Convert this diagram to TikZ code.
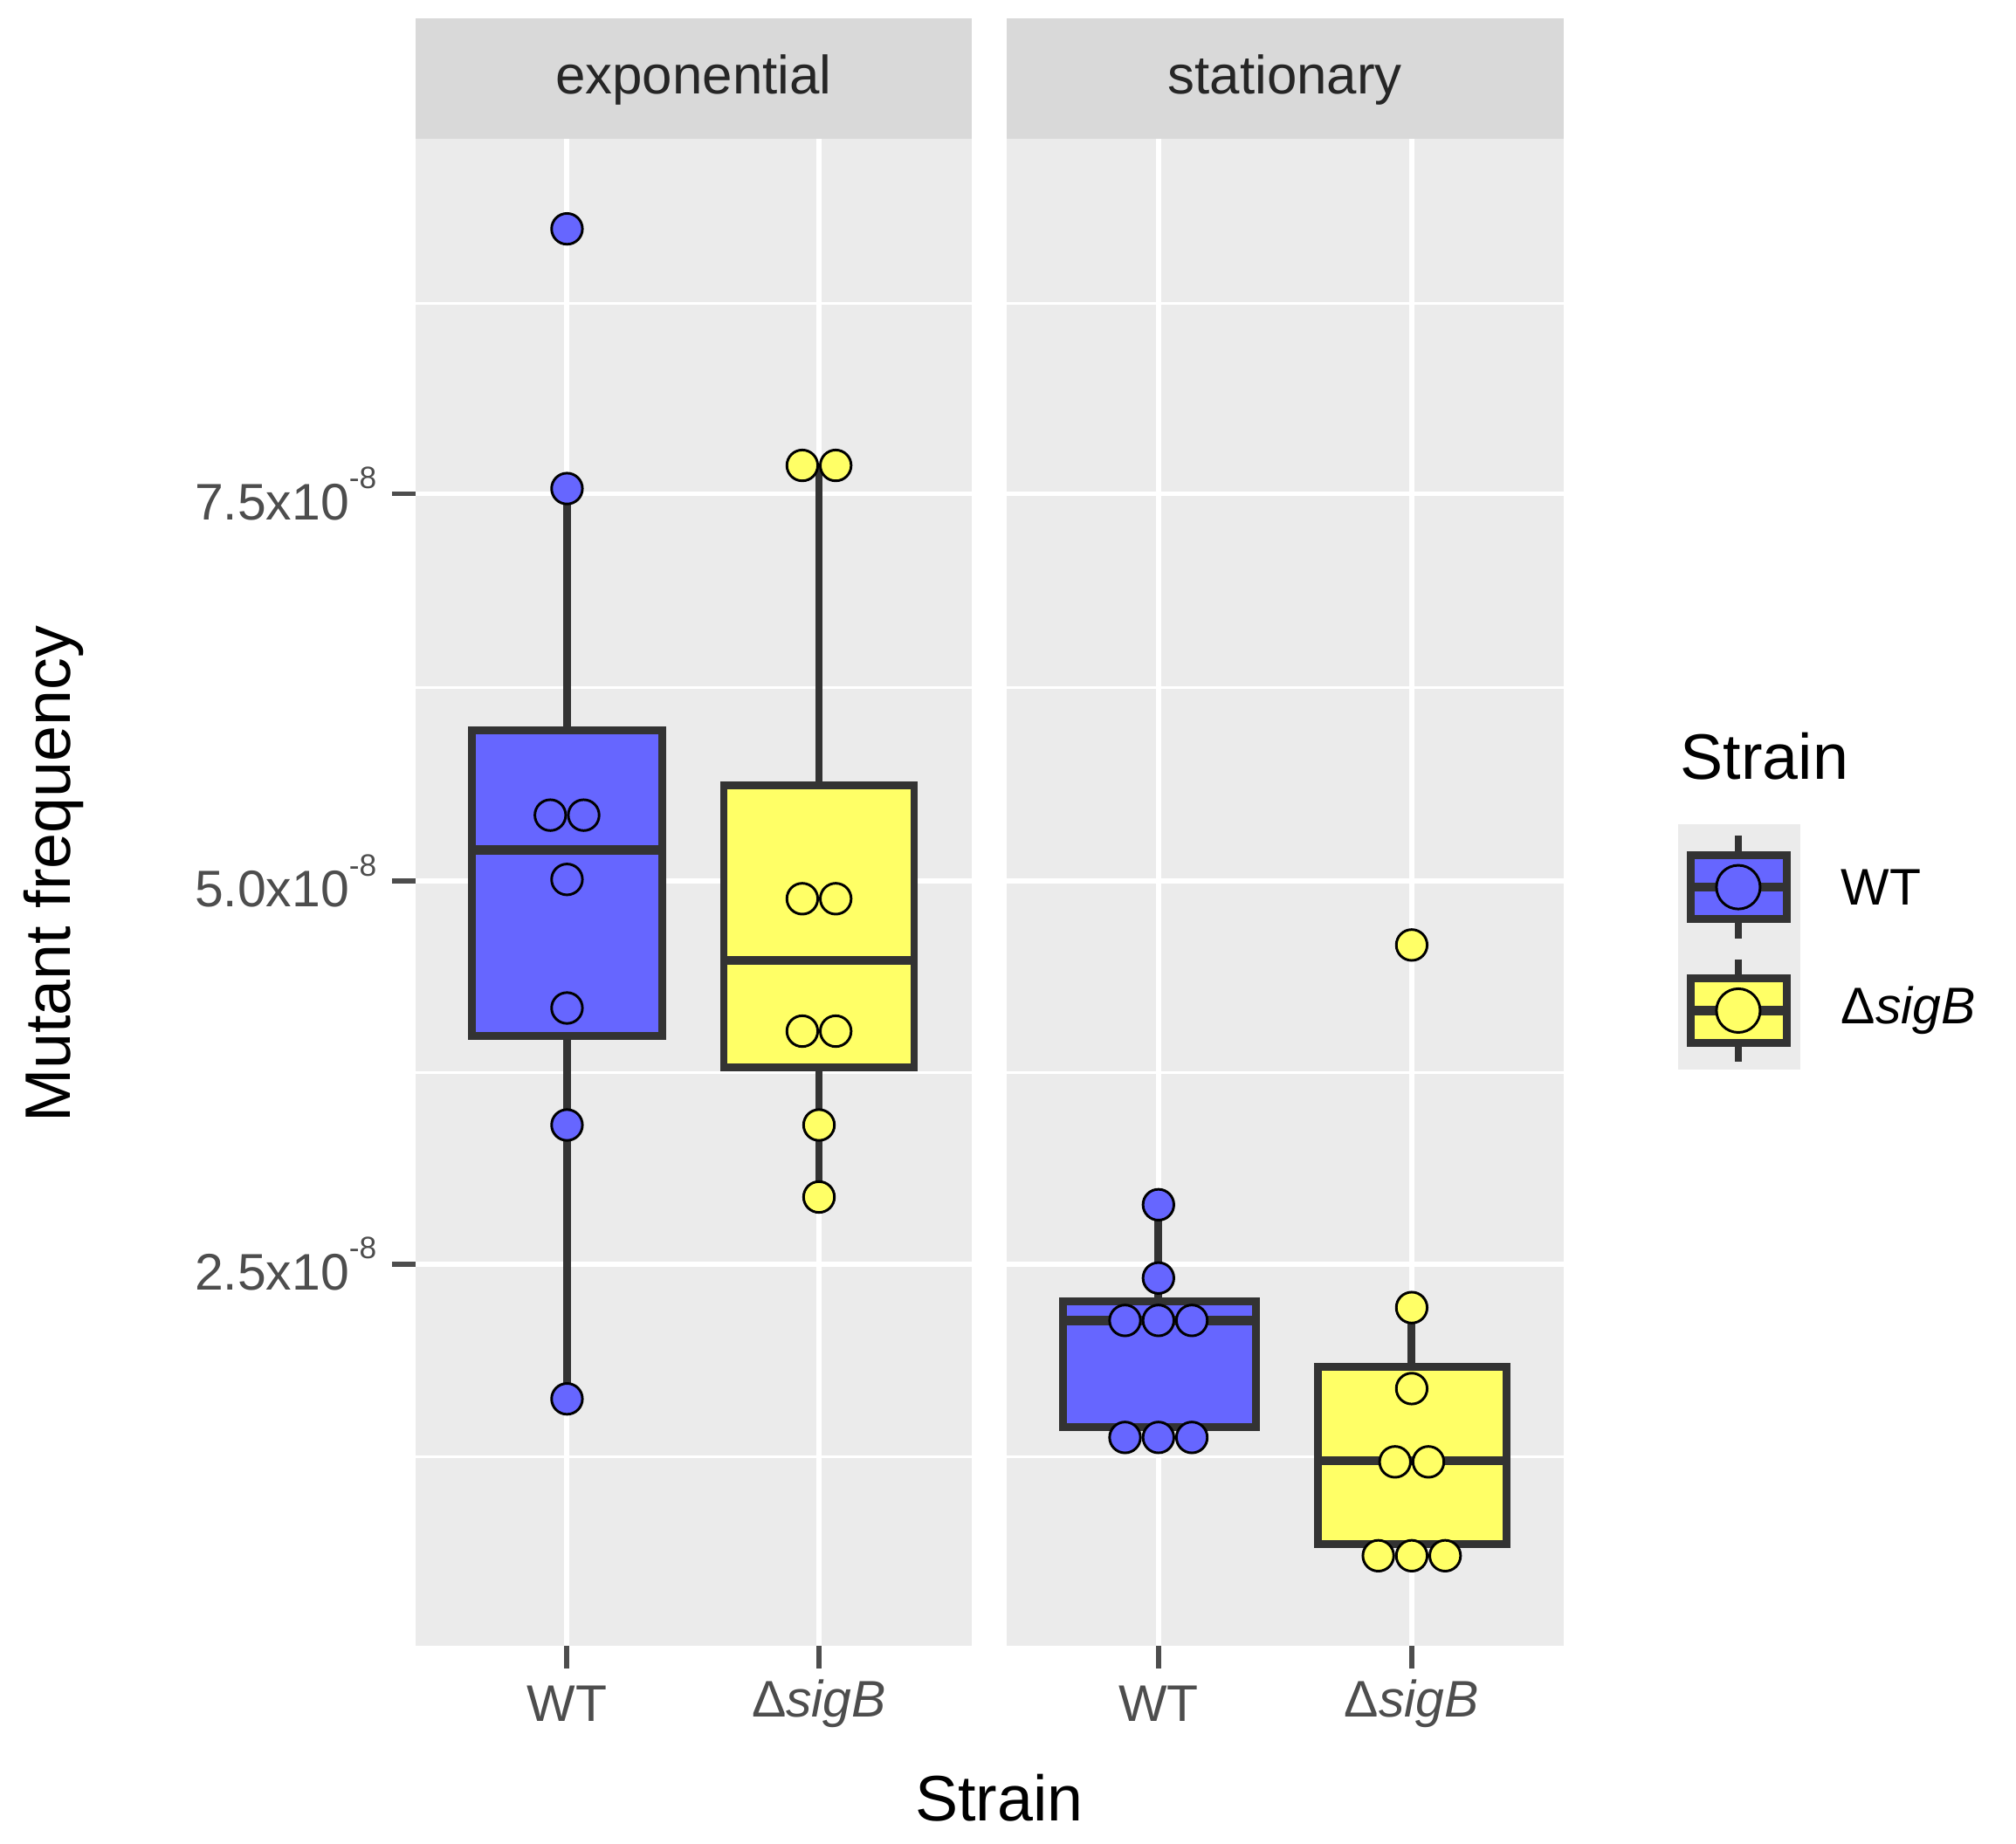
\documentclass[tikz,border=0pt]{standalone}
\usepackage{fontspec}
\setmainfont{Liberation Sans}
\definecolor{pbg}{HTML}{EBEBEB}
\definecolor{sbg}{HTML}{D9D9D9}
\definecolor{bl}{HTML}{6666FF}
\definecolor{yl}{HTML}{FFFF66}
\definecolor{dk}{HTML}{333333}
\definecolor{gt}{HTML}{4D4D4D}
\begin{document}
\begin{tikzpicture}[x=0.5pt,y=-0.5pt,
  major/.style={white,line width=2pt},
  minor/.style={white,line width=1pt},
  bx/.style={draw=dk,line width=3pt},
  md/.style={dk,line width=3.5pt},
  wh/.style={dk,line width=3pt},
  pt/.style={circle,draw=black,line width=1pt,minimum size=12pt,inner sep=0pt},
  ptb/.style={pt,fill=bl},
  pty/.style={pt,fill=yl},
  tl/.style={text=gt,font=\fontsize{20}{24}\selectfont},
  strip/.style={font=\fontsize{21}{25}\selectfont,text=black!85}]
\useasboundingbox (0,0) rectangle (1568,1434);
% panels
\foreach \xa/\xb/\lab/\n in {323/756/exponential/s1,783/1216/stationary/s2}{
  \fill[sbg] (\xa,14) rectangle (\xb,108);
  \node[strip] (\n) at ({(\xa+\xb)/2},62) {\lab};
  \fill[pbg] (\xa,108) rectangle (\xb,1280);
  \foreach \y in {236,535,834,1133} \draw[minor] (\xa,\y) -- (\xb,\y);
  \foreach \y in {384,685,983} \draw[major] (\xa,\y) -- (\xb,\y);
}
\foreach \x in {441,637,901,1098} {
  \draw[major] (\x,108) -- (\x,1280);
  \draw[gt,line width=2pt] (\x,1280) -- (\x,1298);
}
% y ticks
\foreach \y/\l in {384/7.5,685/5.0,983/2.5}{
  \draw[gt,line width=2pt] (305,\y) -- (323,\y);
  \node[tl,anchor=east] at (300,\y) {\l x10\raisebox{0.6em}{\fontsize{12}{14}\selectfont -8}};
}
% x labels
\node[tl] (xa) at (441,1325) {WT};
\node[tl] (xb) at (637,1325) {Δ\textit{sigB}};
\node[tl] (xc) at (901,1325) {WT};
\node[tl] (xd) at (1098,1325) {Δ\textit{sigB}};
\node[font=\fontsize{25}{30}\selectfont] (xt) at (777,1398) {Strain};
\node[font=\fontsize{25}{30}\selectfont,rotate=90] (yt) at (42,680) {Mutant frequency};
% WT exponential
\draw[wh] (441,380) -- (441,1088);
\filldraw[bx,fill=bl] (367,568) rectangle (515,806);
\draw[md] (367,661) -- (515,661);
\foreach \x/\y in {441/178,441/380,428/634,454/634,441/684,441/784,441/875,441/1088}
  \node[ptb] at (\x,\y) {};
% sigB exponential
\draw[wh] (637,362) -- (637,931);
\filldraw[bx,fill=yl] (563,611) rectangle (711,830);
\draw[md] (563,747) -- (711,747);
\foreach \x/\y in {624/362,650/362,624/699,650/699,624/802,650/802,637/875,637/931}
  \node[pty] at (\x,\y) {};
% WT stationary
\draw[wh] (901,937) -- (901,1118);
\filldraw[bx,fill=bl] (827,1012) rectangle (977,1110);
\draw[md] (827,1027) -- (977,1027);
\foreach \x/\y in {901/937,901/994,875/1027,901/1027,927/1027,875/1118,901/1118,927/1118}
  \node[ptb] at (\x,\y) {};
% sigB stationary
\draw[wh] (1098,1017) -- (1098,1210);
\filldraw[bx,fill=yl] (1025,1063) rectangle (1172,1201);
\draw[md] (1025,1136) -- (1172,1136);
\foreach \x/\y in {1098/735,1098/1017,1098/1080,1085/1137,1111/1137,1072/1210,1098/1210,1124/1210}
  \node[pty] at (\x,\y) {};
% legend
\node[font=\fontsize{25}{30}\selectfont,anchor=west] (lt) at (1300,588) {Strain};
\fill[pbg] (1305,641) rectangle (1400,832);
\draw[wh] (1352,650) -- (1352,730);
\filldraw[bx,fill=bl] (1315,665) rectangle (1390,715);
\draw[md] (1315,690) -- (1390,690);
\node[pt,fill=bl,minimum size=17pt] (k1) at (1352,690) {};
\draw[wh] (1352,746) -- (1352,826);
\filldraw[bx,fill=yl] (1315,761) rectangle (1390,811);
\draw[md] (1315,786) -- (1390,786);
\node[pt,fill=yl,minimum size=17pt] (k2) at (1352,786) {};
\node[font=\fontsize{20}{24}\selectfont,anchor=west] (l1) at (1425,690) {WT};
\node[font=\fontsize{20}{24}\selectfont,anchor=west] (l2) at (1425,786) {Δ\textit{sigB}};
\end{tikzpicture}
\end{document}
